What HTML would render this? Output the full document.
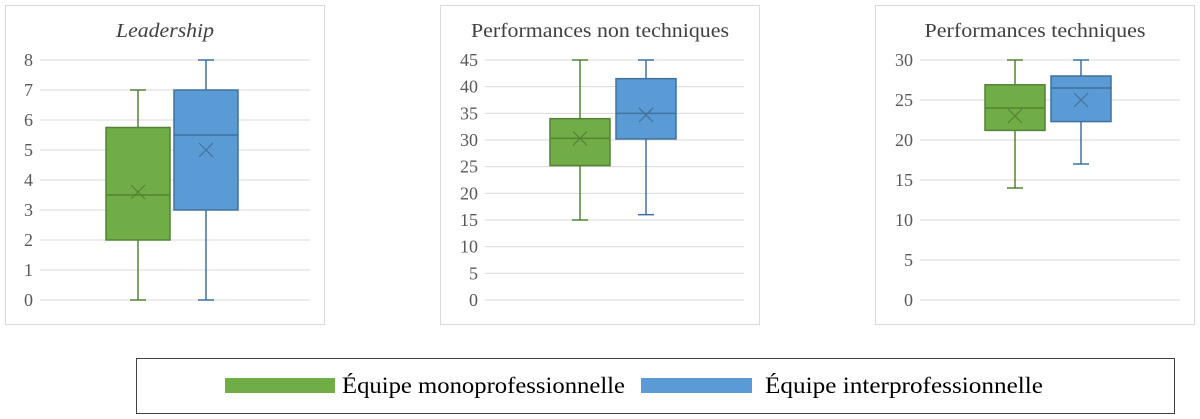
<!DOCTYPE html>
<html><head><meta charset="utf-8"><style>
body{margin:0;background:#fff;width:1200px;height:419px;overflow:hidden}
svg{display:block}
text{font-family:"Liberation Serif",serif}
</style></head><body>
<svg id="c" width="1200" height="419">
<rect x="136.5" y="358.5" width="1038" height="55" fill="#fff" stroke="#404040"/>
<rect x="225" y="378" width="110" height="15" fill="#70ad47"/>
<text x="342" y="393" font-size="23" textLength="283" lengthAdjust="spacingAndGlyphs" fill="#000">Équipe monoprofessionnelle</text>
<rect x="641" y="378" width="111" height="15" fill="#5b9bd5"/>
<text x="765" y="393" font-size="23" textLength="278" lengthAdjust="spacingAndGlyphs" fill="#000">Équipe interprofessionnelle</text>
</svg>
<script>
const titles=["Leadership","Performances non techniques","Performances techniques"];
const axisMax=[8,45,30];
const axisStep=[1,5,5];
const monoMin=[0,15,14], monoQ1=[2,25.2,21.2], monoMed=[3.5,30.3,24], monoQ3=[5.75,34,26.9], monoMax=[7,45,30], monoMean=[3.6,30.3,23];
const interMin=[0,16,17], interQ1=[3,30.2,22.3], interMed=[5.5,35,26.5], interQ3=[7,41.5,28], interMax=[8,45,30], interMean=[5,34.7,25];
const panelX=[5,440,875], plotL=[40,485,920], plotR=[310,744,1180], boxC1=[138,580,1015], boxC2=[206,646,1081], boxW=[64,60,60];
const titleW=[98,258,221];
const svg=document.getElementById('c');
const NS='http://www.w3.org/2000/svg';
function mk(t,a,p){const e=document.createElementNS(NS,t);for(const k in a)e.setAttribute(k,a[k]);(p||svg).appendChild(e);return e;}
const plotTop=60,plotBot=300;
for(let i=0;i<3;i++){
  const g=mk('g',{});
  
  
  const fr=mk('rect',{x:panelX[i]+.5,y:5.5,width:319,height:319,fill:'#fff',stroke:'#d9d9d9'},g);
  
  
  const y=v=>plotBot-(v/axisMax[i])*(plotBot-plotTop);
  const t=mk('text',{x:panelX[i]+160,y:37,'font-size':20,fill:'#404040','text-anchor':'middle',textLength:titleW[i],lengthAdjust:'spacingAndGlyphs'},g);
  if(i===0)t.setAttribute('font-style','italic');
  t.textContent=titles[i];
  
  
  for(let v=0;v<=axisMax[i];v+=axisStep[i]){
    const l=mk('line',{x1:plotL[i],x2:plotR[i],y1:y(v),y2:y(v),stroke:'#d9d9d9','stroke-width':1},g);
    
    
    const tl=mk('text',{x:plotL[i]-7,y:y(v)+6,'font-size':18,fill:'#595959','text-anchor':'end'},g);
    tl.textContent=v;
    
    
  }
  const series=[
    {c:boxC1[i],mn:monoMin[i],q1:monoQ1[i],md:monoMed[i],q3:monoQ3[i],mx:monoMax[i],me:monoMean[i],f:'#70ad47',s:'#548235',n:'mono'},
    {c:boxC2[i],mn:interMin[i],q1:interQ1[i],md:interMed[i],q3:interQ3[i],mx:interMax[i],me:interMean[i],f:'#5b9bd5',s:'#41719c',n:'inter'}];
  series.forEach(s=>{
    const bg=mk('g',{stroke:s.s,'stroke-width':1.5},g);
    
    
    const w=boxW[i]/2, cap=8;
    mk('line',{x1:s.c,x2:s.c,y1:y(s.mx),y2:y(s.q3)},bg);
    mk('line',{x1:s.c,x2:s.c,y1:y(s.q1),y2:y(s.mn)},bg);
    mk('line',{x1:s.c-cap,x2:s.c+cap,y1:y(s.mx),y2:y(s.mx)},bg);
    mk('line',{x1:s.c-cap,x2:s.c+cap,y1:y(s.mn),y2:y(s.mn)},bg);
    mk('rect',{x:s.c-w,y:y(s.q3),width:2*w,height:y(s.q1)-y(s.q3),fill:s.f},bg);
    mk('line',{x1:s.c-w,x2:s.c+w,y1:y(s.md),y2:y(s.md)},bg);
    const m=y(s.me),d=7;
    mk('path',{d:`M${s.c-d} ${m-d}L${s.c+d} ${m+d}M${s.c-d} ${m+d}L${s.c+d} ${m-d}`,'stroke-width':1.2},bg);
  });
}
</script>
</body></html>
